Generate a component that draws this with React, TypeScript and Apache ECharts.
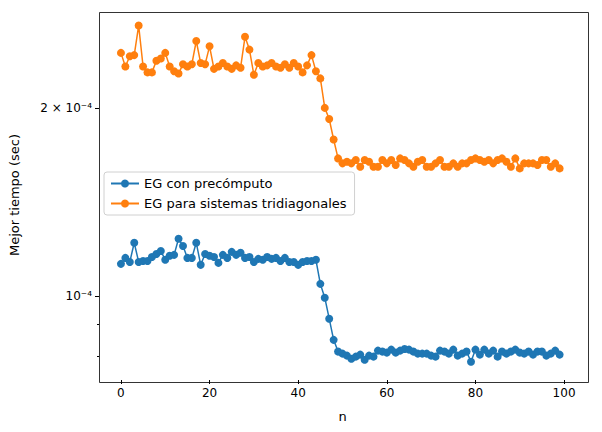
import { useEffect, useRef } from 'react';
import * as echarts from 'echarts';

// values in units of 1e-4 seconds, n = 0..99
const seriesNames = ['EG con precómputo', 'EG para sistemas tridiagonales'];

const precomputo = [
  1.125, 1.15, 1.133, 1.216, 1.133, 1.137, 1.137, 1.154, 1.167, 1.18,
  1.142, 1.159, 1.163, 1.234, 1.202, 1.15, 1.15, 1.216, 1.121, 1.167,
  1.159, 1.154, 1.129, 1.163, 1.15, 1.176, 1.163, 1.172, 1.15, 1.154,
  1.133, 1.146, 1.142, 1.154, 1.146, 1.15, 1.137, 1.15, 1.133, 1.133,
  1.121, 1.133, 1.137, 1.137, 1.142, 1.045, 0.993, 0.919, 0.85, 0.814,
  0.808, 0.802, 0.793, 0.799, 0.805, 0.79, 0.802, 0.799, 0.817, 0.814,
  0.811, 0.82, 0.811, 0.817, 0.822, 0.82, 0.814, 0.808, 0.808, 0.808,
  0.802, 0.799, 0.817, 0.814, 0.808, 0.82, 0.802, 0.808, 0.814, 0.784,
  0.82, 0.805, 0.82, 0.808, 0.817, 0.799, 0.814, 0.808, 0.814, 0.82,
  0.811, 0.808, 0.814, 0.805, 0.814, 0.814, 0.802, 0.808, 0.817, 0.805,
];

const tridiagonales = [
  2.45, 2.33, 2.42, 2.43, 2.71, 2.33, 2.28, 2.28, 2.38, 2.4,
  2.45, 2.33, 2.29, 2.27, 2.35, 2.33, 2.35, 2.56, 2.36, 2.35,
  2.51, 2.31, 2.33, 2.36, 2.33, 2.31, 2.34, 2.32, 2.6, 2.48,
  2.26, 2.36, 2.33, 2.34, 2.36, 2.33, 2.32, 2.35, 2.32, 2.36,
  2.33, 2.28, 2.34, 2.43, 2.29, 2.23, 2.0, 1.92, 1.78, 1.66,
  1.63, 1.64, 1.63, 1.65, 1.61, 1.65, 1.64, 1.61, 1.61, 1.65,
  1.63, 1.65, 1.62, 1.66, 1.65, 1.63, 1.61, 1.64, 1.65, 1.61,
  1.61, 1.63, 1.65, 1.61, 1.61, 1.63, 1.61, 1.63, 1.63, 1.65,
  1.66, 1.65, 1.64, 1.65, 1.63, 1.65, 1.66, 1.64, 1.61, 1.66,
  1.6, 1.63, 1.63, 1.63, 1.62, 1.65, 1.65, 1.61, 1.63, 1.6,
];

const xTicks = [0, 20, 40, 60, 80, 100];
const yMajor = [1e-4, 2e-4];
const yMajorLabels = ['10⁻⁴', '2 × 10⁻⁴'];
const yMinor = [8e-5, 9e-5];

const colors = ['#1f77b4', '#ff7f0e'];

export default function App() {
  const chartRef = useRef<HTMLDivElement>(null);

  useEffect(() => {
    if (!chartRef.current) return;
    const chart = echarts.init(chartRef.current, null, { renderer: 'svg' });

    // the y axis is linear over log10 of the time
    const toPoints = (vals: number[]) => vals.map((v, i) => [i, Math.log10(v * 1e-4)]);
    const majorPos = yMajor.map((v) => Math.log10(v));
    const minorPos = yMinor.map((v) => Math.log10(v));
    const yMin = Math.log10(7.33e-5);
    const yMax = Math.log10(2.87e-4);
    const font = 'DejaVu Sans';

    const option = {
      animation: false,
      textStyle: { fontFamily: font },
      grid: { left: 97, right: 16, top: 10, bottom: 52 },
      legend: {
        data: seriesNames,
        orient: 'vertical',
        left: 104,
        top: 172,
        padding: [5, 8, 5, 6],
        itemGap: 7,
        itemWidth: 28,
        itemHeight: 10,
        borderColor: '#d0d0d0',
        borderWidth: 1,
        borderRadius: 3,
        backgroundColor: '#fff',
        textStyle: { fontFamily: font, fontSize: 13, color: '#000' },
      },
      xAxis: {
        type: 'value',
        min: -4.95,
        max: 104.95,
        name: 'n',
        nameLocation: 'middle',
        nameGap: 30,
        nameTextStyle: { fontFamily: font, fontSize: 13, color: '#000' },
        axisLine: { show: false },
        axisTick: { customValues: xTicks, length: 4, lineStyle: { color: '#000' } },
        axisLabel: { customValues: xTicks, color: '#000', fontSize: 12, margin: 7 },
        splitLine: { show: false },
      },
      yAxis: [
        {
          type: 'value',
          min: yMin,
          max: yMax,
          name: 'Mejor tiempo (sec)',
          nameLocation: 'middle',
          nameGap: 78,
          nameTextStyle: { fontFamily: font, fontSize: 13, color: '#000' },
          axisLine: { show: false, onZero: false },
          axisTick: { show: true, customValues: majorPos, length: 4, lineStyle: { color: '#000' } },
          axisLabel: {
            customValues: majorPos,
            color: '#000',
            fontSize: 12,
            margin: 7,
            formatter: (v: number) => {
              const idx = majorPos.findIndex((p) => Math.abs(p - v) < 1e-6);
              return idx >= 0 ? yMajorLabels[idx] : '';
            },
          },
          splitLine: { show: false },
        },
        {
          type: 'value',
          position: 'left',
          min: yMin,
          max: yMax,
          axisLine: { show: false, onZero: false },
          axisTick: { show: true, customValues: minorPos, length: 2, lineStyle: { color: '#000' } },
          axisLabel: { show: false },
          splitLine: { show: false },
        },
      ],
      // matplotlib-style frame
      graphic: [
        {
          type: 'rect',
          left: 97,
          top: 10,
          shape: { width: 489, height: 370 },
          style: { fill: 'none', stroke: '#000', lineWidth: 0.8 },
          silent: true,
        },
      ],
      series: [
        {
          name: seriesNames[0],
          type: 'line',
          data: toPoints(precomputo),
          color: colors[0],
          symbol: 'circle',
          symbolSize: 8,
          lineStyle: { width: 1.5 },
        },
        {
          name: seriesNames[1],
          type: 'line',
          data: toPoints(tridiagonales),
          color: colors[1],
          symbol: 'circle',
          symbolSize: 8,
          lineStyle: { width: 1.5 },
        },
      ],
    };

    chart.setOption(option);
    return () => chart.dispose();
  }, []);

  return (
    <div
      ref={chartRef}
      style={{ position: 'fixed', left: 0, top: 0, width: 602, height: 432, background: '#fff' }}
    />
  );
}
